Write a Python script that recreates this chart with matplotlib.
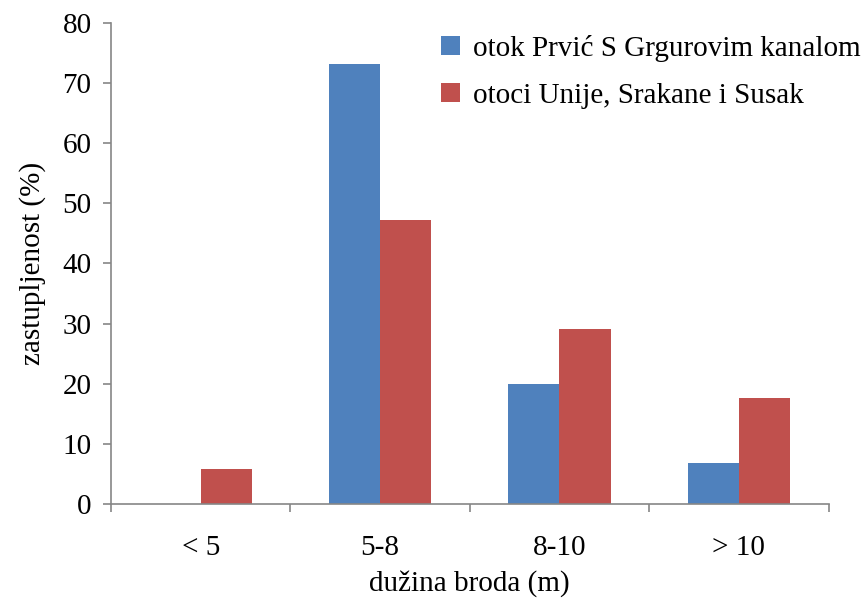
import matplotlib.pyplot as plt
import numpy as np

plt.rcParams["font.family"] = ["Liberation Serif", "DejaVu Serif"]

categories = ["< 5", "5-8", "8-10", "> 10"]
prvic = [0, 73.1, 19.9, 6.8]
unije = [5.8, 47.2, 29.1, 17.6]
series_names = ["otok Prvić S Grgurovim kanalom", "otoci Unije, Srakane i Susak"]

BLUE = "#4F81BD"
RED = "#C0504D"
AXIS = "#868686"
FS = 21

fig = plt.figure(figsize=(8.65, 6.03), dpi=100)
ax = fig.add_axes([111 / 865, 99 / 603, (828.5 - 111) / 865, (504 - 22.7) / 603])

x = np.arange(len(categories))
w = 0.2857
ax.bar(x - w / 2, prvic, w, color=BLUE, label=series_names[0])
ax.bar(x + w / 2, unije, w, color=RED, label=series_names[1])

ax.set_xlim(-0.5, len(categories) - 0.5)
ax.set_ylim(0, 80)
ax.set_yticks(range(0, 81, 10))

ax.set_xticks(x)
ax.set_xticklabels(categories)
ax.set_xticks(np.arange(-0.5, len(categories), 1), minor=True)
ax.tick_params(axis="x", which="major", length=0, pad=22, labelsize=FS)
ax.tick_params(axis="x", which="minor", length=6, width=1.2, color=AXIS, direction="out")
ax.tick_params(axis="y", length=6, width=1.2, color=AXIS, pad=8, labelsize=FS)

for side in ("top", "right"):
    ax.spines[side].set_visible(False)
for side in ("left", "bottom"):
    ax.spines[side].set_color(AXIS)
    ax.spines[side].set_linewidth(1.2)

ax.set_xlabel("dužina broda (m)", fontsize=FS, labelpad=7)
ax.set_ylabel("zastupljenost (%)", fontsize=FS, labelpad=12)

ax.legend(
    loc="upper left",
    bbox_to_anchor=(441 / 865, 1 - 35 / 603),
    bbox_transform=fig.transFigure,
    frameon=False,
    fontsize=FS,
    handlelength=0.65,
    handleheight=0.65,
    handletextpad=0.45,
    labelspacing=0.72,
    borderpad=0,
    borderaxespad=0,
)

fig.savefig("out.png", dpi=100)
